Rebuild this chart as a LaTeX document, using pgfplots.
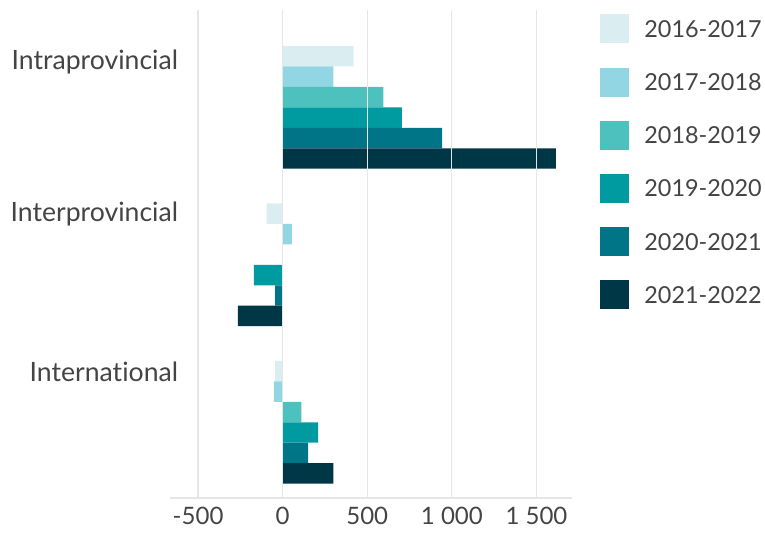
\documentclass[border=0pt]{standalone}
\usepackage{pgfplots}
\pgfplotsset{compat=1.18}
\usepackage{fontspec}
\setmainfont{Lato}[Ligatures=NoCommon]
\definecolor{c1}{HTML}{DAEEF2}
\definecolor{c2}{HTML}{93D6E3}
\definecolor{c3}{HTML}{4DC1BE}
\definecolor{c4}{HTML}{009BA1}
\definecolor{c5}{HTML}{007587}
\definecolor{c6}{HTML}{003746}
\definecolor{txt}{HTML}{444444}
\definecolor{gridc}{HTML}{E6E6E6}

% category order: 0 Intraprovincial, 1 Interprovincial, 2 International
\pgfplotstableread{
cat a b c d e f
0 420 300 595 705 942 1615
1 -95 55 0 -170 -45 -265
2 -45 -52 110 210 150 300
}\flows

\begin{document}
\begin{tikzpicture}
\begin{axis}[
  scale only axis, width=201pt, height=244pt,
  xbar, bar width=0.13,
  y dir=reverse,
  xmin=-666, xmax=1710, ymin=-0.618, ymax=2.481,
  axis x line*=bottom, axis y line*=left,
  x axis line style={gridc, line width=0.6pt},
  y axis line style={draw=none},
  tick style={draw=none},
  xmajorgrids, grid style={gridc, line width=0.6pt},
  axis on top,
  xtick={-500,0,500,1000,1500},
  xticklabels={-500,0,500,1 000,1 500},
  xticklabel style={inner sep=0pt, anchor=north, yshift=-4.5pt, font=\fontsize{12}{14}\selectfont, text=txt},
  ytick={-0.29,0.68,1.68},
  yticklabels={Intraprovincial,Interprovincial,International},
  yticklabel style={inner sep=0pt, anchor=east, xshift=8.5pt, font=\fontsize{13.3}{16}\selectfont, text=txt},
  legend style={at={(1,1)}, anchor=north west, xshift=14pt, yshift=-2pt, draw=none, fill=none,
    inner sep=0pt, row sep=12.1pt, font=\fontsize{11.7}{14}\selectfont, text=txt,
    nodes={inner sep=0pt, text depth=0pt}},
  legend cell align=left,
  legend image code/.code={\fill[#1,draw=none] (0pt,-7.25pt) rectangle (14.5pt,7.25pt);},
  /tikz/every odd column/.append style={column sep=7.5pt},
  clip=false,
]
\addplot[fill=c1, draw=none, bar shift=-0.325] table[x=a, y=cat] {\flows};
\addplot[fill=c2, draw=none, bar shift=-0.195] table[x=b, y=cat] {\flows};
\addplot[fill=c3, draw=none, bar shift=-0.065] table[x=c, y=cat] {\flows};
\addplot[fill=c4, draw=none, bar shift=0.065] table[x=d, y=cat] {\flows};
\addplot[fill=c5, draw=none, bar shift=0.195] table[x=e, y=cat] {\flows};
\addplot[fill=c6, draw=none, bar shift=0.325] table[x=f, y=cat] {\flows};
\legend{2016-2017,2017-2018,2018-2019,2019-2020,2020-2021,2021-2022}
\path (rel axis cs:-0.4229,-0.0902) rectangle (rel axis cs:1.4801,1.0205);
\end{axis}
\end{tikzpicture}
\end{document}
